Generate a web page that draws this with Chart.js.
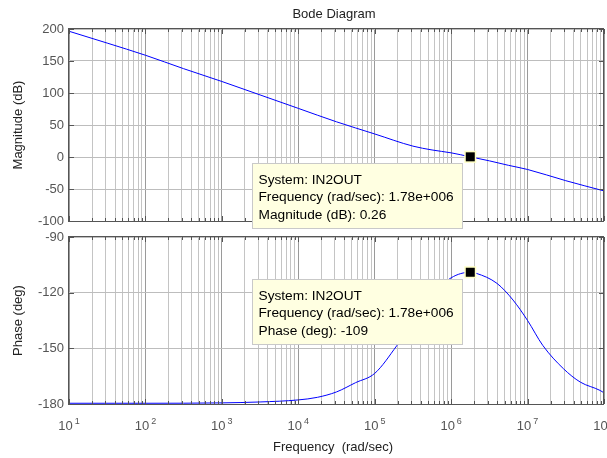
<!DOCTYPE html>
<html><head><meta charset="utf-8">
<script src="https://cdn.jsdelivr.net/npm/chart.js@4.4.1/dist/chart.umd.min.js"></script>
<style>
html,body{margin:0;padding:0;background:#fff;}
#wrap{position:relative;width:607px;height:458px;overflow:hidden;background:#fff;}
#wrap canvas{position:absolute;left:0;}
</style></head><body>
<div id="wrap">
<canvas id="mag" width="607" height="240" style="top:0;width:607px;height:240px"></canvas>
<canvas id="pha" width="607" height="240" style="top:218px;width:607px;height:240px"></canvas>
</div>
<script>
// ---- data ----
const magFreq = [10, 31.6, 100, 316, 1000, 3160, 1e4, 3.16e4, 1e5, 3.16e5, 5.62e5, 1e6, 1.78e6, 3.16e6, 5.62e6, 1e7, 3.16e7, 1e8];
const magDb   = [196.5, 178, 159, 138, 118, 97, 76, 55, 36, 17, 11, 6.5, 0.26, -6, -13, -19.5, -37, -53];
const phaseFreq = [10, 100, 1000, 3162, 1e4, 1.78e4, 3.16e4, 5.62e4, 1e5, 1.95e5, 3.16e5, 5.62e5, 1e6, 1.78e6, 2.14e6, 3.98e6, 6.46e6, 1e7, 1.58e7, 2.95e7, 4.9e7, 8.9e7, 1e8];
const phaseDeg  = [-179.6, -179.6, -179.4, -178.9, -177.8, -176.4, -173.5, -168.5, -163.5, -148.5, -136, -121.5, -112, -109, -109.6, -115, -124, -135, -148.4, -161, -168.2, -172.7, -174];
const magTicks = [-100, -50, 0, 50, 100, 150, 200];
const phaseTicks = [-180, -150, -120, -90];
const decadeExponents = [1, 2, 3, 4, 5, 6, 7, 8];
const markerFreq = 1.78e6, markerMag = 0.26, markerPhase = -109;
const tipMagLines = ['System: IN2OUT', 'Frequency (rad/sec): 1.78e+006', 'Magnitude (dB): 0.26'];
const tipPhaseLines = ['System: IN2OUT', 'Frequency (rad/sec): 1.78e+006', 'Phase (deg): -109'];
const titleText = 'Bode Diagram';
const magLabel = 'Magnitude (dB)';
const phaseLabel = 'Phase (deg)';
const freqLabel = 'Frequency  (rad/sec)';

const FONT = '"Liberation Sans", Arial, Helvetica, sans-serif';
Chart.defaults.font.family = FONT;

const pairs = (xs, ys) => xs.map((x, i) => ({x, y: ys[i]}));
const isDecade = v => Math.abs(Math.log10(v) - Math.round(Math.log10(v))) < 1e-9;

function xScaleCfg() {
  return {
    type: 'logarithmic', min: 10, max: 1e8,
    afterBuildTicks: s => {
      const t = [];
      for (let e = 1; e < 8; e++) for (let m = 1; m < 10; m++) t.push({value: m * Math.pow(10, e)});
      t.push({value: 1e8});
      s.ticks = t;
    },
    ticks: {display: false},
    grid: {drawTicks: false, lineWidth: 1, color: c => (c.tick && isDecade(c.tick.value)) ? '#9a9a9a' : '#c4c4c4'},
    border: {display: false},
    afterFit: s => { s.height = 0; }
  };
}
function yScaleCfg(ticks) {
  return {
    type: 'linear', min: ticks[0], max: ticks[ticks.length - 1],
    afterBuildTicks: s => { s.ticks = ticks.map(v => ({value: v})); },
    ticks: {color: '#555', font: {size: 13}, padding: 5},
    grid: {drawTicks: false, lineWidth: 1, color: '#bdbdbd'},
    border: {display: false},
    afterFit: s => { s.width = 69; }
  };
}

function decor(cfg) {
  return {
    id: 'decor',
    afterDraw(chart) {
      const ctx = chart.ctx, a = chart.chartArea;
      const xs = chart.scales.x, ys = chart.scales.y;
      ctx.save();
      // inward ticks
      ctx.strokeStyle = '#555'; ctx.lineWidth = 1;
      ctx.beginPath();
      xs.ticks.forEach(t => {
        const x = Math.round(xs.getPixelForValue(t.value)) + 0.5;
        const L = isDecade(t.value) ? 5 : 3;
        ctx.moveTo(x, a.top); ctx.lineTo(x, a.top + L);
        ctx.moveTo(x, a.bottom); ctx.lineTo(x, a.bottom - L);
      });
      ys.ticks.forEach(t => {
        const y = Math.round(ys.getPixelForValue(t.value)) + 0.5;
        ctx.moveTo(a.left, y); ctx.lineTo(a.left + 5, y);
        ctx.moveTo(a.right, y); ctx.lineTo(a.right - 5, y);
      });
      ctx.stroke();
      // frame
      ctx.strokeStyle = '#555';
      ctx.strokeRect(Math.round(a.left) - 0.5, Math.round(a.top) - 0.5, Math.round(a.right - a.left), Math.round(a.bottom - a.top) + 1);
      // data tip
      const px = xs.getPixelForValue(cfg.markerX), py = ys.getPixelForValue(cfg.markerY);
      const bx = Math.round(px - 218) + 0.5, by = Math.round(py + 6.5) + 0.5, bw = 210, bh = 65;
      ctx.fillStyle = '#ffffe1';
      ctx.fillRect(bx, by, bw, bh);
      ctx.strokeStyle = '#c9c9c9';
      ctx.strokeRect(bx, by, bw, bh);
      ctx.fillStyle = '#000';
      ctx.font = '13.7px ' + FONT;
      ctx.textAlign = 'left'; ctx.textBaseline = 'alphabetic';
      cfg.tipLines.forEach((l, i) => ctx.fillText(l, bx + 6, by + 20 + i * 17.5));
      // marker on top
      ctx.fillStyle = '#ffffc4';
      ctx.fillRect(px - 6, py - 6, 12, 12);
      ctx.fillStyle = '#000';
      ctx.fillRect(px - 4.5, py - 4.5, 9, 9);
      // texts
      ctx.fillStyle = '#222';
      ctx.font = '13px ' + FONT;
      ctx.textAlign = 'center'; ctx.textBaseline = 'middle';
      if (cfg.title) ctx.fillText(cfg.title, 334, 14.5);
      ctx.save();
      ctx.translate(18.5, (a.top + a.bottom) / 2);
      ctx.rotate(-Math.PI / 2);
      ctx.fillText(cfg.yLabel, 0, 0);
      ctx.restore();
      if (cfg.xLabels) {
        decadeExponents.forEach(e => {
          const x = xs.getPixelForValue(Math.pow(10, e));
          ctx.font = '13px ' + FONT;
          const w1 = ctx.measureText('10').width;
          ctx.font = '9px ' + FONT;
          const w2 = ctx.measureText(String(e)).width;
          const gap = 2, total = w1 + gap + w2, sx = x - total / 2;
          ctx.fillStyle = '#555';
          ctx.textAlign = 'left'; ctx.textBaseline = 'alphabetic';
          ctx.font = '13px ' + FONT;
          ctx.fillText('10', sx, a.bottom + 25.5);
          ctx.font = '9px ' + FONT;
          ctx.fillText(String(e), sx + w1 + gap, a.bottom + 19.5);
        });
        ctx.fillStyle = '#222';
        ctx.font = '13px ' + FONT;
        ctx.textAlign = 'center'; ctx.textBaseline = 'middle';
        ctx.fillText(freqLabel, 333, a.bottom + 43.5);
      }
      ctx.restore();
    }
  };
}

function makeChart(id, fx, fy, ticks, pad, cfg) {
  return new Chart(document.getElementById(id), {
    type: 'line',
    data: {
      datasets: [{
        data: pairs(fx, fy),
        borderColor: '#0000ff', borderWidth: 1, pointRadius: 0,
        cubicInterpolationMode: 'monotone', fill: false
      }]
    },
    options: {
      responsive: false, animation: false, devicePixelRatio: 1,
      layout: {padding: pad},
      plugins: {legend: {display: false}, tooltip: {enabled: false}, title: {display: false}},
      scales: {x: xScaleCfg(), y: yScaleCfg(ticks)}
    },
    plugins: [decor(cfg)]
  });
}

// top canvas spans y 0..240 -> plot area 29..221
makeChart('mag', magFreq, magDb, magTicks, {top: 29, right: 3, bottom: 19, left: 0},
  {markerX: markerFreq, markerY: markerMag, tipLines: tipMagLines, title: titleText, yLabel: magLabel, xLabels: false});
// bottom canvas spans y 218..458 -> plot area 237..404
makeChart('pha', phaseFreq, phaseDeg, phaseTicks, {top: 19, right: 3, bottom: 54, left: 0},
  {markerX: markerFreq, markerY: markerPhase, tipLines: tipPhaseLines, title: null, yLabel: phaseLabel, xLabels: true});
</script>
</body></html>
